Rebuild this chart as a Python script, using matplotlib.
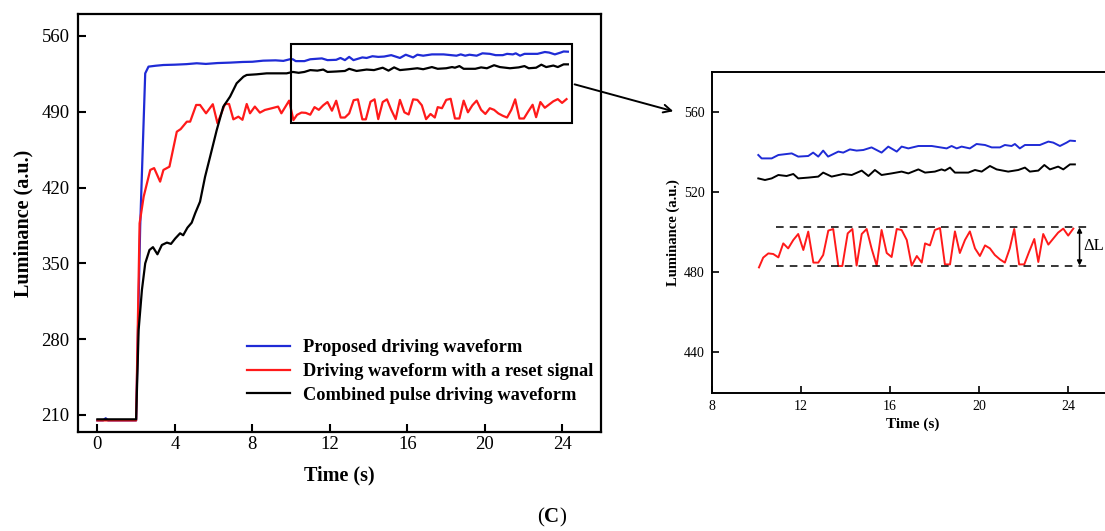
import matplotlib
matplotlib.use("Agg")
import matplotlib.pyplot as plt
from matplotlib.patches import Rectangle, FancyArrowPatch

plt.rcParams['font.family'] = ['Liberation Serif', 'DejaVu Serif']
plt.rcParams['mathtext.fontset'] = 'custom'
plt.rcParams['mathtext.rm'] = 'Liberation Serif'
plt.rcParams['mathtext.bf'] = 'Liberation Serif:bold'

# ---------------- data ----------------
blue_t = [0, 0.3, 0.43, 0.55, 2.0, 2.21, 2.47, 2.64, 3.0, 3.41, 4.0, 4.6, 5.13, 5.6,
          6.2, 6.85, 7.5, 8.0, 8.56, 9.2, 9.6, 9.94,
          10.09, 10.24, 10.69, 10.99, 11.59, 11.88, 12.33, 12.55, 12.78, 13.0, 13.22,
          13.68, 13.9, 14.2, 14.5, 14.8, 15.17, 15.62, 15.92, 16.3, 16.52, 16.82,
          17.27, 17.87, 18.54, 18.76, 18.99, 19.21, 19.58, 19.88, 20.26, 20.56, 20.93,
          21.15, 21.45, 21.6, 21.82, 22.05, 22.72, 23.1, 23.32, 23.62, 23.92, 24.07, 24.29]
blue_L = [205, 205, 207, 205, 205, 384, 525.5, 531.7, 532.5, 533.2, 533.5, 534, 534.8, 534.2,
          535, 535.4, 536, 536.2, 537.2, 537.5, 537, 538.5,
          538.5, 536.8, 536.8, 538.5, 539.3, 537.7, 538, 539.7, 537.7, 540.7, 537.7,
          540.2, 539.7, 541.3, 540.7, 541, 542.3, 539.7, 542.7, 540.2, 542.7, 541.8,
          543, 543, 541.8, 543, 541.8, 542.7, 541.8, 544, 543.5, 542.3, 542.3,
          543.5, 543, 544, 541.8, 543.5, 543.5, 545.2, 544.7, 543, 544.7, 545.7, 545.5]

red_t = [0, 2.0, 2.18, 2.39, 2.73, 2.93, 3.24, 3.41, 3.72, 4.1, 4.3, 4.62, 4.79, 5.1,
         5.3, 5.61, 5.96, 6.2, 6.59, 6.8, 7.02, 7.28, 7.49, 7.71, 7.88, 8.13, 8.39,
         8.65, 8.99, 9.33, 9.5, 9.9,
         10.12, 10.31, 10.54, 10.76, 10.99, 11.21, 11.43, 11.66, 11.88, 12.11, 12.33,
         12.56, 12.78, 13.0, 13.23, 13.45, 13.68, 13.86, 14.1, 14.31, 14.5, 14.73,
         14.95, 15.17, 15.4, 15.62, 15.85, 16.07, 16.3, 16.52, 16.75, 16.97, 17.2,
         17.42, 17.57, 17.79, 18.01, 18.24, 18.46, 18.69, 18.91, 19.13, 19.36, 19.58,
         19.81, 20.03, 20.26, 20.48, 20.7, 20.93, 21.15, 21.37, 21.57, 21.79, 22.02,
         22.24, 22.47, 22.65, 22.87, 23.1, 23.32, 23.54, 23.77, 23.99, 24.22]
red_L = [205, 205, 387, 411.6, 436.3, 438, 425.5, 436.3, 439.3, 471.6, 474, 480.9, 480.9, 496.3,
         496.3, 488.6, 497, 479.4, 497.2, 497.2, 483, 485.5, 482.6, 497.2, 488.6, 494.8, 489.2,
         491.7, 493.2, 494.8, 488.6, 500.3,
         482.3, 487.2, 489.3, 489, 487.3, 494.3, 491.8, 496, 499, 491, 500.2,
         484.7, 484.7, 488.5, 500.7, 501.5, 483, 483, 499.3, 501.5, 483.2, 499,
         501.5, 491.8, 483.2, 501, 489.5, 487.5, 501.5, 501, 496, 483.2, 488,
         484.7, 494.3, 493.3, 501, 502, 483.8, 483.8, 500.3, 489.5, 496, 500.3,
         491.8, 488, 493.3, 491.8, 488.5, 486.3, 484.7, 491.8, 501.5, 483.8, 483.8,
         490.2, 496.5, 485, 499, 493.7, 496.7, 499.7, 501.7, 498.2, 501.7]

black_t = [0, 2.0, 2.13, 2.3, 2.47, 2.69, 2.87, 3.1, 3.33, 3.59, 3.8, 4.02, 4.27, 4.43,
           4.65, 4.87, 5.05, 5.3, 5.56, 5.82, 6.16, 6.5, 6.85, 7.19, 7.54, 7.71, 8.22,
           8.74, 9.26, 9.77,
           10.09, 10.39, 10.69, 10.99, 11.36, 11.66, 11.88, 12.33, 12.78, 13.0, 13.38,
           13.9, 14.28, 14.73, 15.03, 15.32, 15.62, 16.07, 16.52, 16.82, 17.27, 17.57,
           18.01, 18.31, 18.46, 18.69, 18.91, 19.51, 19.81, 20.11, 20.48, 20.78, 21.3,
           21.75, 22.05, 22.27, 22.65, 22.92, 23.17, 23.54, 23.77, 24.07, 24.29]
black_L = [206, 206, 288.5, 325.5, 350, 362.4, 365, 358.4, 367, 369.2, 368, 373, 377.8, 376,
           383, 387.6, 396.3, 407, 430, 448.5, 473, 494.7, 504, 516.3, 522.4, 524, 524.6,
           525.5, 525.5, 525.5,
           526.8, 526, 526.8, 528.5, 528, 529, 526.8, 527.2, 527.7, 529.7, 527.7,
           529, 528.5, 530.7, 528, 531, 528.5, 529.3, 530.2, 529.3, 531.3, 529.7,
           530.2, 531.3, 530.7, 532.2, 529.7, 529.7, 531, 530.2, 533, 531.3, 530.2,
           531, 532.2, 530.2, 530.7, 533.5, 531.3, 532.7, 531.3, 533.8, 533.8]

labels = ["Proposed driving waveform",
          "Driving waveform with a reset signal",
          "Combined pulse driving waveform"]
colors = ["#1f2bd6", "#ff1a1a", "#000000"]
main_xticks = [0, 4, 8, 12, 16, 20, 24]
main_yticks = [210, 280, 350, 420, 490, 560]
inset_xticks = [8, 12, 16, 20, 24]
inset_yticks = [440, 480, 520, 560]
zoom_box = (10, 480, 14.5, 72.5)
band_lo, band_hi = 483.2, 502.3

# ---------------- figure ----------------
W, H = 1105, 531
fig = plt.figure(figsize=(W / 100, H / 100), dpi=100)

def frac(x0, x1, ytop, ybot):
    return [x0 / W, 1 - ybot / H, (x1 - x0) / W, (ybot - ytop) / H]

ax = fig.add_axes(frac(78, 601, 14, 432))
series = [(blue_t, blue_L), (red_t, red_L), (black_t, black_L)]
for (t, L), c, lab in zip(series, colors, labels):
    ax.plot(t, L, color=c, lw=1.6, label=lab)
ax.set_xlim(-1, 26)
ax.set_ylim(194.3, 580.3)
ax.set_xticks(main_xticks)
ax.set_yticks(main_yticks)
ax.tick_params(direction='in', length=6, width=1.5, labelsize=13.5, pad=6)
ax.tick_params(axis='x', pad=3)
for s in ax.spines.values():
    s.set_linewidth(1.6)
ax.set_xlabel("Time (s)", fontsize=14.5, fontweight='bold', labelpad=9)
ax.set_ylabel("Luminance (a.u.)", fontsize=14.5, fontweight='bold', labelpad=6)
leg = ax.legend(loc='upper left', bbox_to_anchor=(0.323, 0.222), frameon=False,
                prop={'weight': 'bold', 'size': 13.2}, handlelength=2.35,
                handletextpad=0.7, labelspacing=0.37, borderpad=0, borderaxespad=0)

ax.add_patch(Rectangle(zoom_box[:2], zoom_box[2], zoom_box[3], fill=False,
                       ec='black', lw=1.5, zorder=5))

# ---------------- inset ----------------
ax2 = fig.add_axes(frac(711.7, 1113, 72, 393))
for (t, L), c in zip(series, colors):
    tt = [a for a in t if a >= 10]
    LL = [b for a, b in zip(t, L) if a >= 10]
    ax2.plot(tt, LL, color=c, lw=1.4)
ax2.set_xlim(8, 26)
ax2.set_ylim(419.5, 580)
ax2.set_xticks(inset_xticks)
ax2.set_yticks(inset_yticks)
ax2.tick_params(direction='in', length=5, width=1.2, labelsize=10, pad=5)
for s in ax2.spines.values():
    s.set_linewidth(1.4)
ax2.set_xlabel("Time (s)", fontsize=11, fontweight='bold', labelpad=3)
ax2.set_ylabel("Luminance (a.u.)", fontsize=10.5, fontweight='bold', labelpad=3)

ax2.hlines([band_lo, band_hi], 10.9, 25.0, colors='black', linestyles=(0, (5, 4)), lw=1.1)
ax2.annotate("", xy=(24.5, band_hi), xytext=(24.5, band_lo),
             arrowprops=dict(arrowstyle='<|-|>', color='black', lw=1.1,
                             mutation_scale=7, shrinkA=0, shrinkB=0))
ax2.text(24.65, (band_lo + band_hi) / 2, "ΔL", fontsize=12, va='center', ha='left')

# connecting arrow
start = fig.transFigure.inverted().transform(ax.transData.transform((24.5, 516)))
arr = FancyArrowPatch(start, (676 / W, 1 - 112 / H), transform=fig.transFigure,
                      arrowstyle='->', mutation_scale=14, lw=1.4, color='black')
fig.add_artist(arr)

fig.text(552 / W, 1 - 517 / H, r"($\mathbf{C}$)", fontsize=15, ha='center', va='center')

fig.savefig("out.png", dpi=100)
